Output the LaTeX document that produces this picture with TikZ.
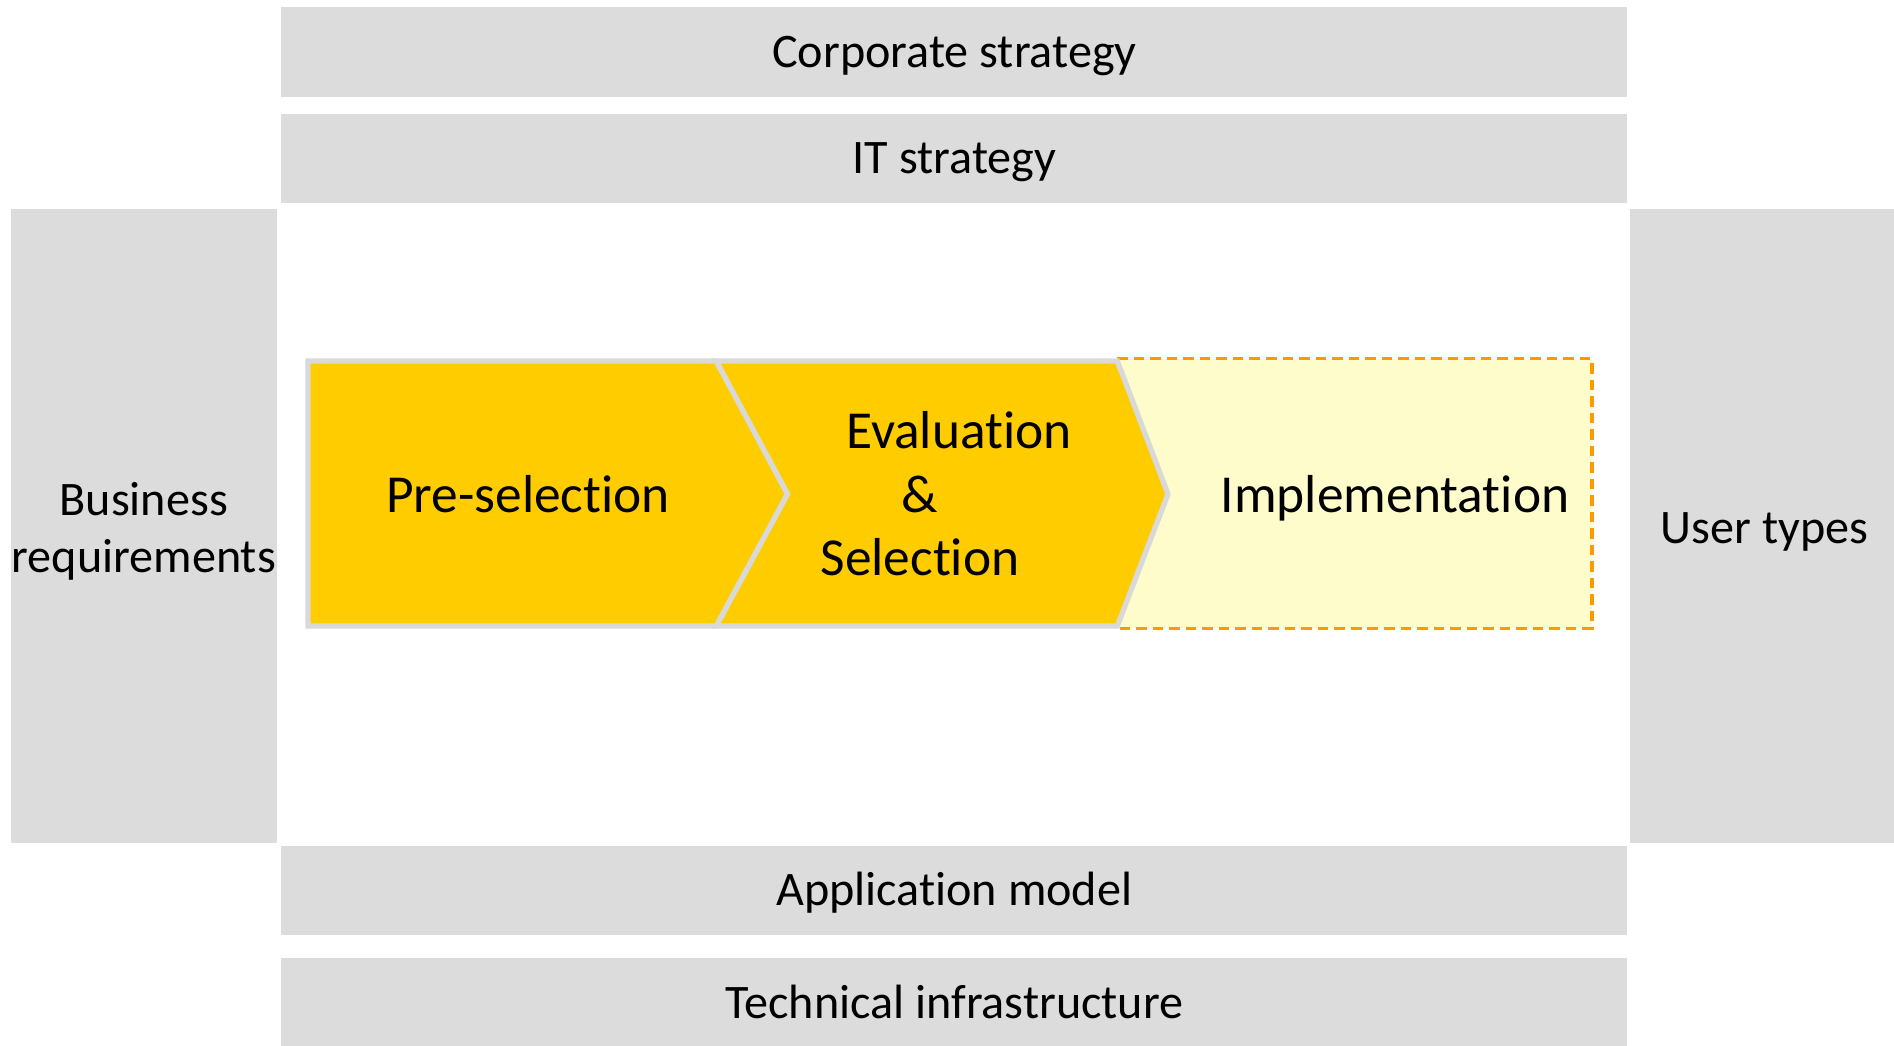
\documentclass[tikz,border=0pt]{standalone}
\usepackage{fontspec}
\setmainfont[Ligatures=NoCommon]{Carlito}
\usepackage{tikz}
\usetikzlibrary{positioning}

\definecolor{bargrey}{RGB}{220,220,220}
\definecolor{framegrey}{RGB}{217,217,217}
\definecolor{phaseyellow}{RGB}{255,204,0}
\definecolor{paleyellow}{RGB}{255,252,204}
\definecolor{dashorange}{RGB}{255,153,0}

\begin{document}
\begin{tikzpicture}[x=1cm, y=1cm,
    bar/.style={fill=bargrey, draw=none, inner sep=0pt, font=\fontsize{13.7}{16}\selectfont,
        text height=0.9em, text depth=0.03em, minimum width=13.457cm, minimum height=0.894cm},
    side/.style={fill=bargrey, draw=none, inner sep=0pt, align=center,
        font=\fontsize{13.7}{16.3}\selectfont, minimum width=2.657cm, minimum height=6.341cm},
    phase/.style={fill=phaseyellow, draw=framegrey, line width=1.5pt, line join=miter},
    phasetext/.style={inner sep=0pt, align=center, font=\fontsize{15.2}{18.1}\selectfont}]
    \useasboundingbox (0,0) rectangle (18.94,-10.45);
    % horizontal bars
    \foreach \n/\y/\t in {corp/-0.519/Corporate strategy, itstrat/-1.582/IT strategy,
        appmodel/-8.902/Application model, techinfra/-10.03/Technical infrastructure} {
        \node[bar] (\n) at (9.543,\y) {\t};
    }
    % side columns
    \node[side] (busreq) at (1.4375,-5.26) {};
    \node[align=center, font=\fontsize{13.7}{16.3}\selectfont] at ([yshift=-0.05cm]busreq.center) {Business\\requirements};
    \node[side, minimum width=2.7cm] (usertypes) at (17.645,-5.26) {};
    \node[font=\fontsize{13.7}{16.3}\selectfont] at ([yshift=-0.06cm]usertypes.center) {User types};
    % phases
    \fill[paleyellow] (11.173,-3.587) rectangle (15.92,-6.281);
    \draw[dashorange, line width=0.9pt, dash pattern=on 3pt off 1.7pt]
        (11.173,-3.587) -- (15.92,-3.587) -- (15.92,-6.281) -- (11.173,-6.281);
    \draw[phase] (3.08,-3.61) -- (7.163,-3.61) -- (7.876,-4.94) -- (7.163,-6.26) -- (3.08,-6.26) -- cycle;
    \draw[phase] (7.163,-3.61) -- (11.173,-3.61) -- (11.68,-4.94) -- (11.173,-6.26) -- (7.163,-6.26) -- (7.876,-4.94) -- cycle;
    \node[phasetext] (presel) at (5.28,-4.94) {Pre-selection};
    \node[phasetext] (evalsel) at (9.2,-4.94) {\hspace*{0.78cm}Evaluation\\\&\\Selection};
    \node[phasetext] (impl) at (13.95,-4.98) {Implementation};
\end{tikzpicture}
\end{document}
